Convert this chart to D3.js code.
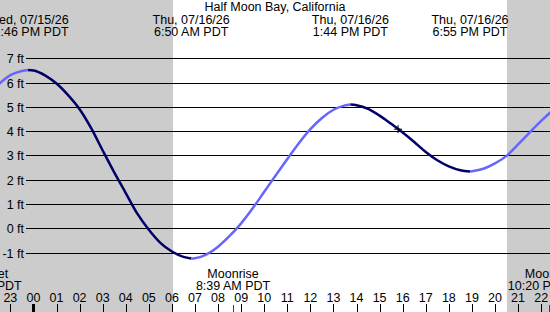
<!DOCTYPE html>
<html>
<head>
<meta charset="utf-8">
<script src="https://cdn.jsdelivr.net/npm/d3@7"></script>
<style>
  body { margin: 0; background: #fff; }
  svg { display: block; font-family: "Liberation Sans", Arial, sans-serif; font-size: 12.5px; }
</style>
</head>
<body>
<script>
const baseWidth = 550,
  baseHeight = 312;

const title = "Half Moon Bay, California";

// predicted tide (feet)
const tideTimes = [
  "2026-07-15 22:30", "2026-07-15 23:00", "2026-07-15 23:30", "2026-07-15 23:46",
  "2026-07-16 00:00", "2026-07-16 00:30", "2026-07-16 01:00", "2026-07-16 01:30",
  "2026-07-16 02:00", "2026-07-16 02:30", "2026-07-16 03:00", "2026-07-16 03:30",
  "2026-07-16 04:00", "2026-07-16 04:30", "2026-07-16 05:00", "2026-07-16 05:30",
  "2026-07-16 06:00", "2026-07-16 06:30", "2026-07-16 06:50", "2026-07-16 07:00",
  "2026-07-16 07:30", "2026-07-16 08:00", "2026-07-16 08:30", "2026-07-16 09:00",
  "2026-07-16 09:30", "2026-07-16 10:00", "2026-07-16 10:30", "2026-07-16 11:00",
  "2026-07-16 11:30", "2026-07-16 12:00", "2026-07-16 12:30", "2026-07-16 13:00",
  "2026-07-16 13:30", "2026-07-16 13:44", "2026-07-16 14:00", "2026-07-16 14:30",
  "2026-07-16 15:00", "2026-07-16 15:30", "2026-07-16 16:00", "2026-07-16 16:30",
  "2026-07-16 17:00", "2026-07-16 17:30", "2026-07-16 18:00", "2026-07-16 18:30",
  "2026-07-16 18:55", "2026-07-16 19:00", "2026-07-16 19:30", "2026-07-16 20:00",
  "2026-07-16 20:30", "2026-07-16 21:00", "2026-07-16 21:30", "2026-07-16 22:00",
  "2026-07-16 22:30",
];
const tideFeet = [
  5.94, 6.31, 6.48, 6.52,
  6.5, 6.3, 5.96, 5.48,
  4.9, 4.12, 3.2, 2.3,
  1.45, 0.6, -0.06, -0.6,
  -0.96, -1.18, -1.25, -1.24,
  -1.08, -0.76, -0.32, 0.2,
  0.82, 1.5, 2.18, 2.85,
  3.5, 4.08, 4.54, 4.88,
  5.06, 5.1, 5.07, 4.92,
  4.64, 4.3, 3.94, 3.55,
  3.14, 2.8, 2.55, 2.39,
  2.34, 2.35, 2.45, 2.67,
  2.98, 3.45, 3.94, 4.42,
  4.86,
];

const extremeTimes = ["2026-07-15 23:46", "2026-07-16 06:50", "2026-07-16 13:44", "2026-07-16 18:55"];
const extremeDates = ["Wed, 07/15/26", "Thu, 07/16/26", "Thu, 07/16/26", "Thu, 07/16/26"];
const extremeClock = ["11:46 PM PDT", "6:50 AM PDT", "1:44 PM PDT", "6:55 PM PDT"];

const moonTimes = ["2026-07-15 21:52", "2026-07-16 08:39", "2026-07-16 22:20"];
const moonNames = ["Moonset", "Moonrise", "Moonset"];
const moonClock = ["9:52 PM PDT", "8:39 AM PDT", "10:20 PM PDT"];

const nightStart = ["2026-07-15 20:31", "2026-07-16 20:31"];
const nightEnd = ["2026-07-16 06:03", "2026-07-17 06:03"];

const feetTicks = [-1, 0, 1, 2, 3, 4, 5, 6, 7];

const nowTime = "2026-07-16 15:48",
  nowFeet = 4.08;

const viewStart = "2026-07-15 22:33",
  viewEnd = "2026-07-16 22:23";

const parse = d3.timeParse("%Y-%m-%d %H:%M");

const x = d3
    .scaleTime()
    .domain([parse(viewStart), parse(viewEnd)])
    .range([0, baseWidth]),
  y = d3.scaleLinear().domain([-1, 7]).range([252.5, 58.3]);

const svg = d3
  .select("body")
  .append("svg")
  .attr("width", baseWidth)
  .attr("height", baseHeight);

// night shading
svg
  .selectAll(".night")
  .data(nightStart)
  .enter()
  .append("rect")
  .attr("x", (d) => x(parse(d)))
  .attr("y", 0)
  .attr("width", (d, i) => x(parse(nightEnd[i])) - x(parse(d)))
  .attr("height", baseHeight)
  .attr("fill", "#cccccc");

// horizontal grid + feet labels
svg
  .selectAll(".grid")
  .data(feetTicks)
  .enter()
  .append("line")
  .attr("x1", 26)
  .attr("x2", baseWidth)
  .attr("y1", (d) => Math.round(y(d)) + 0.5)
  .attr("y2", (d) => Math.round(y(d)) + 0.5)
  .attr("stroke", "#000")
  .attr("stroke-width", 1);

svg
  .selectAll(".ylab")
  .data(feetTicks)
  .enter()
  .append("text")
  .attr("x", 24)
  .attr("y", (d) => Math.round(y(d)))
  .attr("dy", ".36em")
  .attr("text-anchor", "end")
  .text((d) => d + " ft");

// tide curve, split into rising / falling runs
const pts = tideTimes.map((t, i) => ({ t: parse(t), v: tideFeet[i] }));
const runs = [];
let run = [pts[0]];
for (let i = 1; i < pts.length; i++) {
  run.push(pts[i]);
  const up = pts[i].v > pts[i - 1].v;
  if (i === pts.length - 1) {
    runs.push({ up, pts: run });
  } else if (pts[i + 1].v > pts[i].v !== up) {
    runs.push({ up, pts: run });
    run = [pts[i]];
  }
}

const line = d3
  .line()
  .x((d) => x(d.t))
  .y((d) => y(d.v))
  .curve(d3.curveMonotoneX);

svg
  .selectAll(".tide")
  .data(runs)
  .enter()
  .append("path")
  .attr("d", (d) => line(d.pts))
  .attr("fill", "none")
  .attr("stroke", (d) => (d.up ? "#6666ff" : "#000066"))
  .attr("stroke-width", 2.5);

// current time marker
const nx = x(parse(nowTime)),
  ny = y(nowFeet);
svg
  .append("path")
  .attr("d", `M${nx - 4},${ny}H${nx + 4}M${nx},${ny - 4}V${ny + 4}`)
  .attr("stroke", "#000")
  .attr("stroke-width", 1);

// title
svg
  .append("text")
  .attr("x", baseWidth / 2)
  .attr("y", 11)
  .attr("text-anchor", "middle")
  .text(title);

// high / low labels on top
const extLabels = svg.selectAll(".ext").data(extremeTimes).enter().append("text")
  .attr("text-anchor", "middle");
extLabels
  .append("tspan")
  .attr("x", (d) => x(parse(d)))
  .attr("y", 24)
  .text((d, i) => extremeDates[i]);
extLabels
  .append("tspan")
  .attr("x", (d) => x(parse(d)))
  .attr("y", 36)
  .text((d, i) => extremeClock[i]);

// moon labels at the bottom
const moonLabels = svg.selectAll(".moon").data(moonTimes).enter().append("text")
  .attr("text-anchor", "middle");
moonLabels
  .append("tspan")
  .attr("x", (d) => x(parse(d)))
  .attr("y", 278)
  .text((d, i) => moonNames[i]);
moonLabels
  .append("tspan")
  .attr("x", (d) => x(parse(d)))
  .attr("y", 289.5)
  .text((d, i) => moonClock[i]);

svg
  .selectAll(".moontick")
  .data(moonTimes)
  .enter()
  .append("line")
  .attr("x1", (d) => Math.round(x(parse(d))) + 0.5)
  .attr("x2", (d) => Math.round(x(parse(d))) + 0.5)
  .attr("y1", 305)
  .attr("y2", baseHeight)
  .attr("stroke", "#e00000");

// hour axis
const hours = x.ticks(d3.timeHour.every(1));
svg
  .selectAll(".hlab")
  .data(hours)
  .enter()
  .append("text")
  .attr("x", (d) => x(d))
  .attr("y", 302)
  .attr("text-anchor", "middle")
  .text(d3.timeFormat("%H"));

svg
  .selectAll(".htick")
  .data(hours)
  .enter()
  .append("line")
  .attr("x1", (d) => Math.round(x(d)) + 0.5)
  .attr("x2", (d) => Math.round(x(d)) + 0.5)
  .attr("y1", 304)
  .attr("y2", baseHeight)
  .attr("stroke", "#000")
  .attr("stroke-width", (d) => (d.getHours() === 0 ? 3 : 1));
</script>
</body>
</html>
